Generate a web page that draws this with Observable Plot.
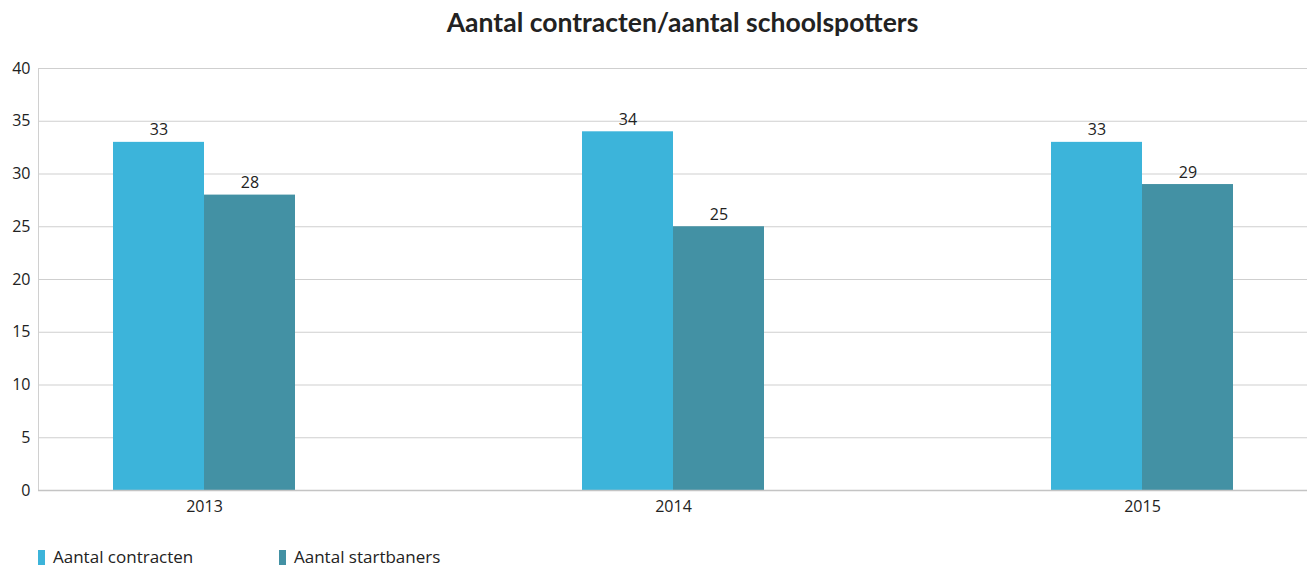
<!DOCTYPE html>
<html>
<head>
<meta charset="utf-8">
<script src="https://cdn.jsdelivr.net/npm/d3@7"></script>
<script src="https://cdn.jsdelivr.net/npm/@observablehq/plot@0.6"></script>
<style>
  body { margin: 0; background: #fff; font-family: "Open Sans", sans-serif; color: #222; }
  #title { height: 58px; box-sizing: border-box; padding-top: 6px; padding-left: 52px; text-align: center; font-family: Lato, sans-serif; font-weight: 700; font-size: 26.5px; color: #222; }
  #legend { position: relative; height: 46px; font-size: 17px; color: #222; }
  .item { position: absolute; top: 28px; line-height: 18px; display: flex; align-items: center; }
  .sw { width: 7px; height: 15px; margin-right: 8px; }
</style>
</head>
<body>
<div id="title">Aantal contracten/aantal schoolspotters</div>
<div id="chart"></div>
<div id="legend"></div>
<script>
const years = ["2013", "2014", "2015"];
const series = ["Aantal contracten", "Aantal startbaners"];
const contracten = [33, 34, 33];
const startbaners = [28, 25, 29];
const colors = ["#3cb4da", "#4391a4"];
const yTicks = [0, 5, 10, 15, 20, 25, 30, 35, 40];

const dataC = years.map((yr, i) => ({year: yr, series: series[0], value: contracten[i]}));
const dataS = years.map((yr, i) => ({year: yr, series: series[1], value: startbaners[i]}));

const half = 91;
const chart = Plot.plot({
  width: 1313,
  height: 462,
  marginTop: 10,
  marginBottom: 30,
  marginLeft: 38,
  marginRight: 6,
  style: {fontFamily: "'Open Sans', sans-serif", fontSize: "16px", color: "#222"},
  x: {domain: years, paddingInner: 0.6123, paddingOuter: 0.1576, label: null, tickSize: 0, tickPadding: 10},
  y: {domain: [0, 40], ticks: yTicks, label: null, tickSize: 0, tickPadding: 8},
  marks: [
    Plot.ruleY(yTicks.filter(d => d > 0), {stroke: "#cfcfcf", strokeWidth: 1}),
    Plot.frame({anchor: "left", stroke: "#d0d0d0"}),
    Plot.barY(dataC, {x: "year", y: "value", fill: colors[0], insetRight: half}),
    Plot.barY(dataS, {x: "year", y: "value", fill: colors[1], insetLeft: half}),
    Plot.ruleY([0], {stroke: "#c4c4c4", strokeWidth: 1.5}),
    Plot.text(dataC, {x: "year", y: "value", text: d => String(d.value), dx: -half / 2, dy: -12, fill: "#222", fontSize: 16}),
    Plot.text(dataS, {x: "year", y: "value", text: d => String(d.value), dx: half / 2, dy: -12, fill: "#222", fontSize: 16})
  ]
});
document.getElementById("chart").appendChild(chart);

const legend = document.getElementById("legend");
const lefts = [38, 279];
series.forEach((s, i) => {
  const it = document.createElement("div");
  it.className = "item";
  it.style.left = lefts[i] + "px";
  it.innerHTML = `<span class="sw" style="background:${colors[i]}"></span><span>${s}</span>`;
  legend.appendChild(it);
});
</script>
</body>
</html>
